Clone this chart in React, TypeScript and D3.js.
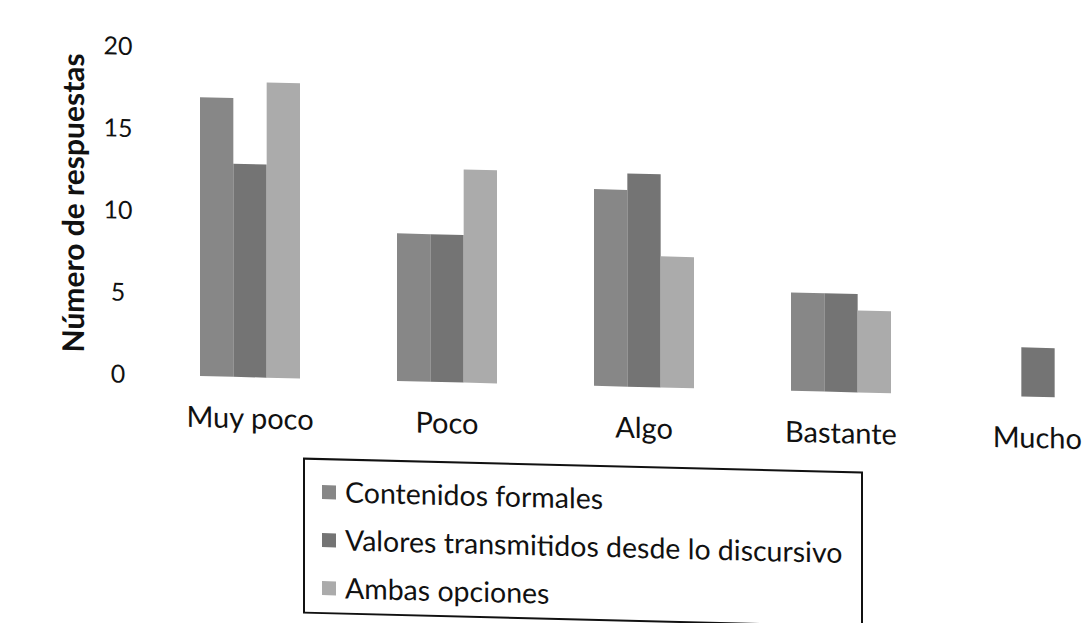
import React, { useEffect, useRef } from 'react'
import * as d3 from 'd3'

// Categories and series
const categories = ['Muy poco', 'Poco', 'Algo', 'Bastante', 'Mucho']
const seriesNames = ['Contenidos formales', 'Valores transmitidos desde lo discursivo', 'Ambas opciones']
const contenidosFormales = [17, 9, 12, 6, 0]
const valoresDiscursivo = [13, 9, 13, 6, 3]
const ambasOpciones = [18, 13, 8, 5, 0]
const yTicks = [0, 5, 10, 15, 20]

const seriesValues = [contenidosFormales, valoresDiscursivo, ambasOpciones]
const seriesColors = ['#878787', '#747474', '#ababab']

const FONT = 'Lato, "Open Sans", sans-serif'

const App: React.FC = () => {
  const chartRef = useRef<SVGSVGElement | null>(null)

  useEffect(() => {
    if (!chartRef.current) return
    d3.select(chartRef.current).selectAll('*').remove()

    const svg = d3.select(chartRef.current)
    // the scan is slightly skewed: baseline drops towards the right
    const g = svg.append('g').attr('transform', 'matrix(1,0.025,0,1,0,-5)')

    const x0 = d3.scaleBand<string>()
      .domain(categories)
      .range([151.5, 1136.5])
      .padding(0)

    const groupWidth = 100
    const x1 = d3.scaleBand<number>()
      .domain(d3.range(seriesNames.length))
      .range([0, groupWidth])
      .padding(0)

    const y = d3.scaleLinear()
      .domain([0, 20])
      .range([376, 48])

    // bars
    categories.forEach((cat, ci) => {
      const gx = (x0(cat) as number) + (x0.bandwidth() - groupWidth) / 2
      seriesValues.forEach((vals, si) => {
        const v = vals[ci]
        if (!v) return
        g.append('rect')
          .attr('x', gx + (x1(si) as number))
          .attr('y', y(v))
          .attr('width', x1.bandwidth())
          .attr('height', y(0) - y(v))
          .attr('fill', seriesColors[si])
      })
    })

    // y axis labels (no line, no ticks)
    g.selectAll('.ytick')
      .data(yTicks)
      .join('text')
      .attr('class', 'ytick')
      .attr('x', 118)
      .attr('y', d => y(d))
      .attr('dy', '0.35em')
      .attr('text-anchor', 'middle')
      .style('font-family', FONT)
      .style('font-size', '25px')
      .attr('fill', '#111')
      .text(d => d)

    // category labels, the last one kept inside the page
    g.selectAll('.xlab')
      .data(categories)
      .join('text')
      .attr('class', 'xlab')
      .attr('x', d => (x0(d) as number) + x0.bandwidth() / 2)
      .attr('y', 417)
      .attr('dy', '0.35em')
      .attr('text-anchor', 'middle')
      .style('font-family', FONT)
      .style('font-size', '29px')
      .attr('fill', '#111')
      .text(d => d)
      .each(function (d) {
        const el = this as SVGTextElement
        const w = el.getComputedTextLength()
        const cx = (x0(d) as number) + x0.bandwidth() / 2
        const maxCx = 1082 - w / 2
        if (cx > maxCx) d3.select(el).attr('x', maxCx)
      })

    // y axis title
    g.append('text')
      .attr('transform', 'rotate(-90)')
      .attr('x', -206)
      .attr('y', 74)
      .attr('dy', '0.35em')
      .attr('text-anchor', 'middle')
      .style('font-family', FONT)
      .style('font-size', '30px')
      .style('font-weight', 'bold')
      .attr('fill', '#111')
      .text('Número de respuestas')

    // legend
    const legend = g.append('g')
    legend.append('rect')
      .attr('x', 304)
      .attr('y', 456)
      .attr('width', 558)
      .attr('height', 154)
      .attr('fill', 'none')
      .attr('stroke', '#111')
      .attr('stroke-width', 2)

    seriesNames.forEach((name, i) => {
      const cy = 489 + i * 48
      legend.append('rect')
        .attr('x', 322)
        .attr('y', cy - 7)
        .attr('width', 14)
        .attr('height', 14)
        .attr('fill', seriesColors[i])
      legend.append('text')
        .attr('x', 345)
        .attr('y', cy)
        .attr('dy', '0.35em')
        .style('font-family', FONT)
        .style('font-size', '28.5px')
        .attr('fill', '#111')
        .text(name)
    })
  }, [])

  return (
    <svg
      ref={chartRef}
      width={1087}
      height={623}
      style={{ position: 'absolute', left: 0, top: 0, background: '#fff' }}
    />
  )
}

export default App
